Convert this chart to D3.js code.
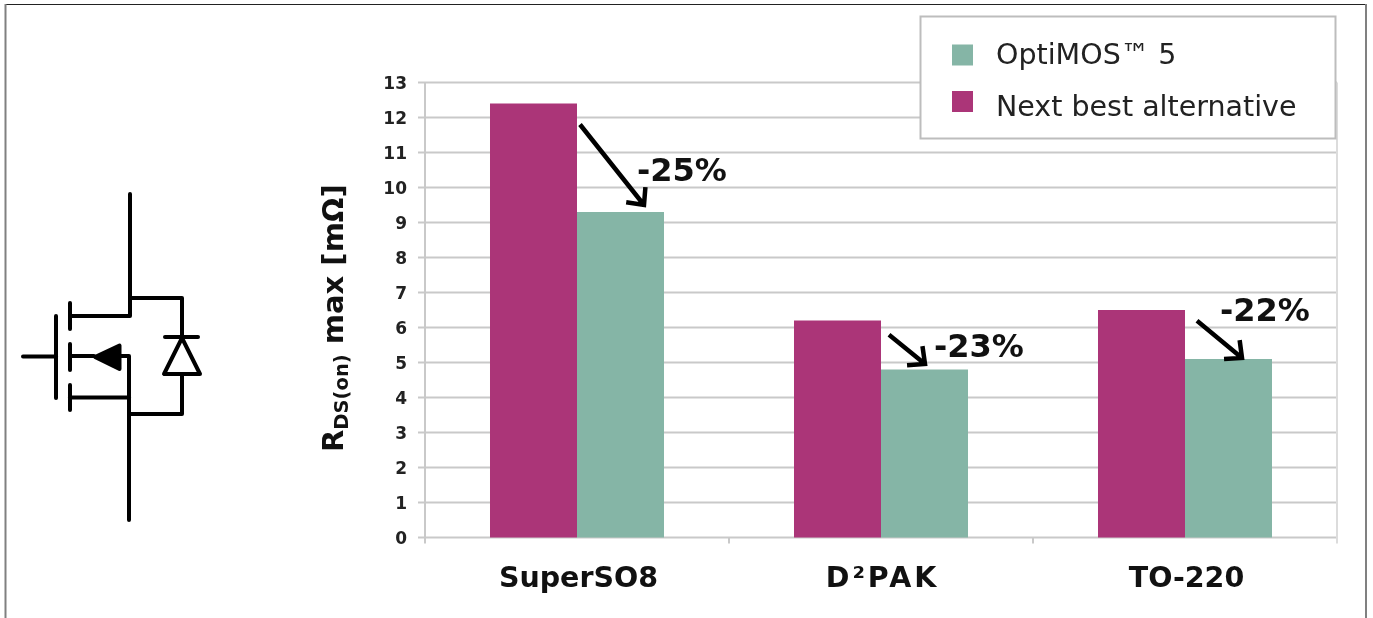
<!DOCTYPE html>
<html>
<head>
<meta charset="utf-8">
<script src="https://cdn.jsdelivr.net/npm/d3@7"></script>
<style>
	html, body { margin: 0; padding: 0; background: #fff; overflow: hidden; }
	text { font-family: "DejaVu Sans", sans-serif; }
</style>
</head>
<body>
<svg id="chart"></svg>
<script>
// values
var categories = ['SuperSO8', 'D²PAK', 'TO-220']
var alternative = [12.4, 6.2, 6.5]
var optimos = [9.3, 4.8, 5.1]
var reductions = ['-25%', '-23%', '-22%']
var yTicks = d3.range(0, 14)
var legendLabels = ['OptiMOS™ 5', 'Next best alternative']

var dim = { width: 1373, height: 618, left: 425, right: 1337, top: 82.5, bottom: 537.5 }
var purple = '#ab3578', green = '#85b5a6', gridGrey = '#c9c9c9'

var root = d3.select('#chart')
	.attr('width', dim.width)
	.attr('height', dim.height)
	.style('display', 'block')

buildFrame()

// the source picture is a soft screenshot
var svg = root.append('g').style('filter', 'blur(0.5px)')

buildSchematic()
buildBars()
buildLegend()

function buildFrame() {
	root.append('line').attr('x1', 5).attr('x2', 1366).attr('y1', 4.5).attr('y2', 4.5)
		.attr('stroke', '#222').attr('stroke-width', 1)
	root.append('line').attr('x1', 5.5).attr('x2', 5.5).attr('y1', 4).attr('y2', 618)
		.attr('stroke', '#808080').attr('stroke-width', 2)
	root.append('line').attr('x1', 1366).attr('x2', 1366).attr('y1', 4).attr('y2', 618)
		.attr('stroke', '#808080').attr('stroke-width', 2)
}

function buildSchematic() {
	var g = svg.append('g')
		.attr('fill', 'none')
		.attr('stroke', '#000')
		.attr('stroke-width', 4)
		.attr('stroke-linejoin', 'round')
		.attr('stroke-linecap', 'round')

	var wires = [
		'M130,194V316H70',
		'M130,298H182V337',
		'M165,337H198',
		'M182,374V414H129',
		'M129,520V356H121',
		'M94,356H70',
		'M129,397.5H70',
		'M23,356.5H56',
		'M56,316V398',
		'M70,303V329',
		'M70,344V370',
		'M70,385V410'
	]
	g.selectAll('path.wire')
		.data(wires)
		.enter()
		.append('path')
			.attr('class', 'wire')
			.attr('d', d => d)

	// diode and body arrow
	g.append('path').attr('d', 'M182,338L164,374H200Z')
	g.append('path').attr('d', 'M95,357L119.5,345.5V369Z').attr('fill', '#000')
}

function buildBars() {
	var x = d3.scaleBand()
		.domain(categories)
		.range([dim.left, dim.right])
		.paddingInner(0.4276)
		.paddingOuter(0.2138)

	var y = d3.scaleLinear()
		.domain([0, 13])
		.range([dim.bottom, dim.top])

	// gridlines
	svg.append('g')
		.selectAll('line')
		.data(yTicks)
		.enter()
		.append('line')
			.attr('x1', dim.left - 7)
			.attr('x2', dim.right)
			.attr('y1', d => y(d))
			.attr('y2', d => y(d))
			.attr('stroke', gridGrey)
			.attr('stroke-width', 2)

	// axis lines
	svg.append('line')
		.attr('x1', dim.left).attr('x2', dim.left)
		.attr('y1', dim.top).attr('y2', dim.bottom + 6)
		.attr('stroke', gridGrey).attr('stroke-width', 2)
	svg.append('line')
		.attr('x1', dim.right).attr('x2', dim.right)
		.attr('y1', dim.top).attr('y2', dim.bottom + 6)
		.attr('stroke', '#dcdcdc').attr('stroke-width', 2)

	var step = x.step()
	svg.append('g')
		.selectAll('line')
		.data(categories.slice(1))
		.enter()
		.append('line')
			.attr('x1', d => x(d) - step * 0.2138)
			.attr('x2', d => x(d) - step * 0.2138)
			.attr('y1', dim.bottom)
			.attr('y2', dim.bottom + 6)
			.attr('stroke', gridGrey)
			.attr('stroke-width', 2)

	// y tick labels
	svg.append('g')
		.selectAll('text')
		.data(yTicks)
		.enter()
		.append('text')
			.attr('x', 407)
			.attr('y', d => y(d) + 6)
			.attr('text-anchor', 'end')
			.attr('font-size', 17)
			.attr('font-weight', 'bold')
			.attr('fill', '#222')
			.text(d => d)

	// bars
	var barW = x.bandwidth() / 2
	svg.append('g')
		.selectAll('rect')
		.data(alternative)
		.enter()
		.append('rect')
			.attr('x', (d, i) => x(categories[i]))
			.attr('y', d => y(d))
			.attr('width', barW)
			.attr('height', d => y(0) - y(d))
			.attr('fill', purple)
	svg.append('g')
		.selectAll('rect')
		.data(optimos)
		.enter()
		.append('rect')
			.attr('x', (d, i) => x(categories[i]) + barW)
			.attr('y', d => y(d))
			.attr('width', barW)
			.attr('height', d => y(0) - y(d))
			.attr('fill', green)

	// category labels
	svg.append('g')
		.selectAll('text')
		.data(categories)
		.enter()
		.append('text')
			.attr('x', d => x(d) + barW + 1.5)
			.attr('y', 587)
			.attr('text-anchor', 'middle')
			.attr('font-size', 28.5)
			.attr('font-weight', 'bold')
			.attr('fill', '#111')
			.style('letter-spacing', d => d == 'D²PAK' ? '3px' : null)
			.text(d => d)

	// y axis title
	var title = svg.append('text')
		.attr('transform', 'translate(343,452) rotate(-90)')
		.attr('font-size', 29)
		.attr('font-weight', 'bold')
		.attr('fill', '#111')
	title.append('tspan').text('R')
	title.append('tspan').attr('font-size', 19.5).attr('dy', 5).text('DS(on)')
	title.append('tspan').attr('dy', -5).text(' max [mΩ]')

	// reduction arrows, placed from the bar tops
	var arrows = [
		{ dx1: 3, v1: 11.8, dx2: 67, v2: 9.5, lx: 60, ly: 181 },
		{ dx1: 8, v1: 5.79, dx2: 44, v2: 4.96, lx: 53, ly: 357 },
		{ dx1: 12, v1: 6.19, dx2: 57, v2: 5.13, lx: 35, ly: 321 }
	]
	var ann = svg.append('g')
	arrows.forEach(function(a, i) {
		var mid = x(categories[i]) + barW
		var x1 = mid + a.dx1, y1 = y(a.v1), x2 = mid + a.dx2, y2 = y(a.v2)
		var ang = Math.atan2(y2 - y1, x2 - x1)
		var head = 18
		var p1 = [x2 - head * Math.cos(ang - 0.75), y2 - head * Math.sin(ang - 0.75)]
		var p2 = [x2 - head * Math.cos(ang + 0.75), y2 - head * Math.sin(ang + 0.75)]
		ann.append('path')
			.attr('d', 'M' + x1 + ',' + y1 + 'L' + x2 + ',' + y2 + 'M' + p1 + 'L' + x2 + ',' + y2 + 'L' + p2)
			.attr('fill', 'none')
			.attr('stroke', '#000')
			.attr('stroke-width', 4.5)
		ann.append('text')
			.attr('x', mid + a.lx)
			.attr('y', a.ly)
			.attr('font-size', 32)
			.attr('font-weight', 'bold')
			.attr('fill', '#111')
			.text(reductions[i])
	})
}

function buildLegend() {
	var colors = [green, purple]
	var rowY = d3.scalePoint().domain(legendLabels).range([55, 101.5])
	var textY = d3.scalePoint().domain(legendLabels).range([64, 116])
	svg.append('rect')
		.attr('x', 920.5)
		.attr('y', 16.5)
		.attr('width', 415)
		.attr('height', 122)
		.attr('fill', '#fff')
		.attr('stroke', '#bdbdbd')
		.attr('stroke-width', 2)
	var rows = svg.append('g')
		.selectAll('g')
		.data(legendLabels)
		.enter()
		.append('g')
	rows.append('rect')
		.attr('x', 952)
		.attr('y', d => rowY(d) - 10.5)
		.attr('width', 21)
		.attr('height', 21)
		.attr('fill', (d, i) => colors[i])
	rows.append('text')
		.attr('x', 996)
		.attr('y', d => textY(d))
		.attr('font-size', 28.5)
		.attr('fill', '#222')
		.text(d => d)
}
</script>
</body>
</html>
